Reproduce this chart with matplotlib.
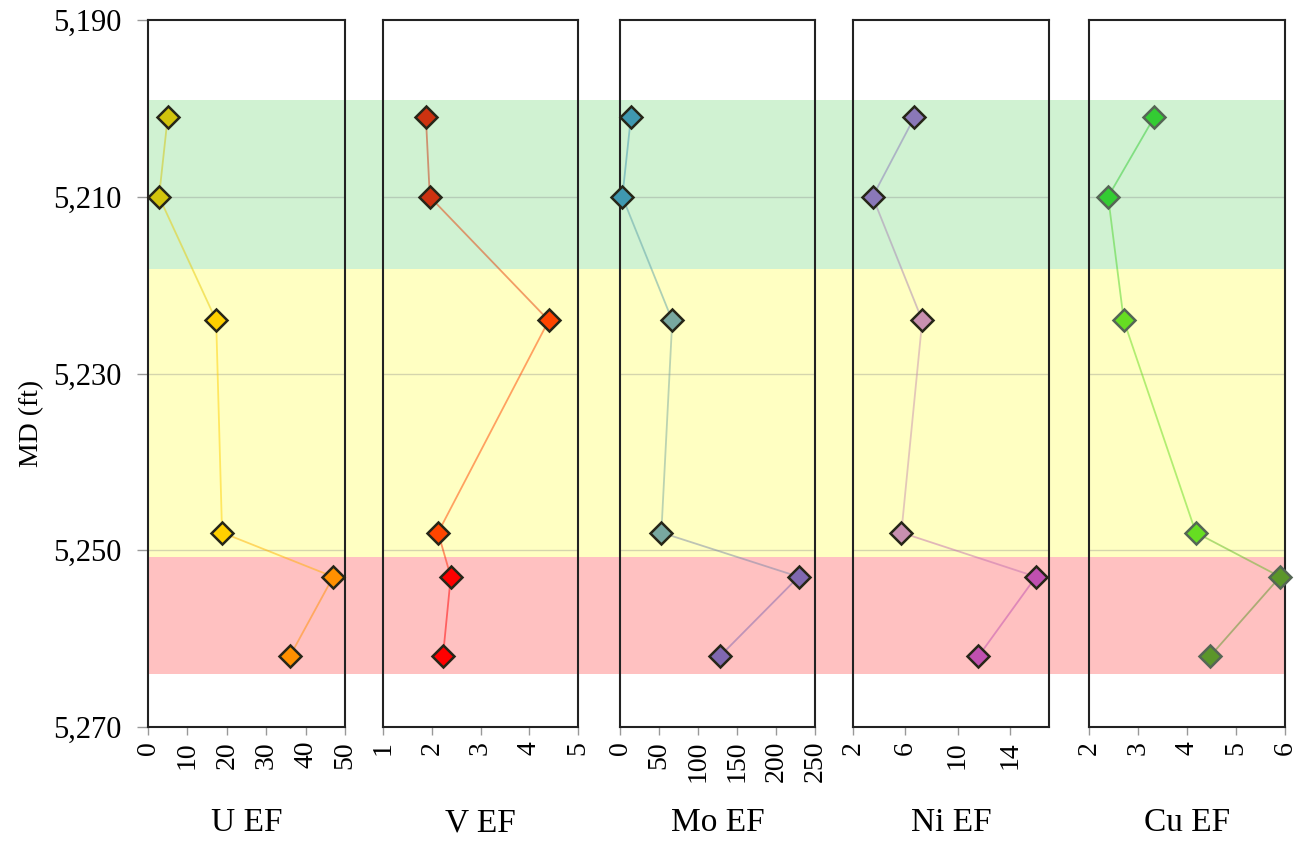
import numpy as np
import matplotlib.pyplot as plt
from matplotlib.colors import to_rgb
from matplotlib.ticker import FuncFormatter

plt.rcParams['font.family'] = ['Liberation Serif', 'DejaVu Serif']

# Sample depths (ft) and enrichment factors
depth = [5201, 5210, 5224, 5248, 5253, 5262]
u_ef = [5.0, 2.8, 17.3, 18.8, 47.0, 36.0]
v_ef = [1.88, 1.96, 4.40, 2.13, 2.39, 2.23]
mo_ef = [14, 3, 67, 53, 229, 128]
ni_ef = [6.7, 3.5, 7.3, 5.7, 16.0, 11.6]
cu_ef = [3.33, 2.39, 2.71, 4.18, 5.90, 4.47]

# Depth intervals (top, base) for the shaded zones
zones = [(5199, 5218.2, '#d0f2d2'),
         (5218.2, 5250.8, '#ffffc2'),
         (5250.8, 5264, '#ffc1c1')]

panels = [
    ("U EF", u_ef, (0, 50), [0, 10, 20, 30, 40, 50],
     ['#d2c40c', '#d2c40c', '#ffd000', '#ffd000', '#ff9000', '#ff9000']),
    ("V EF", v_ef, (1, 5), [1, 2, 3, 4, 5],
     ['#cc3210', '#cc3210', '#ff4500', '#ff4500', '#ff0000', '#ff0000']),
    ("Mo EF", mo_ef, (0, 250), [0, 50, 100, 150, 200, 250],
     ['#3f98b0', '#3f98b0', '#78a8a0', '#78a8a0', '#8068b0', '#8068b0']),
    ("Ni EF", ni_ef, (2, 17), [2, 6, 10, 14],
     ['#8a78b8', '#8a78b8', '#c890b0', '#c890b0', '#c050b0', '#c050b0']),
    ("Cu EF", cu_ef, (2, 6), [2, 3, 4, 5, 6],
     ['#33cc33', '#33cc33', '#66dd22', '#66dd22', '#5b962a', '#5b962a']),
]

W, H = 1302, 841
fig = plt.figure(figsize=(W / 100, H / 100), dpi=100)

top_px, bot_px = 20, 727
y0 = (H - bot_px) / H
h = (bot_px - top_px) / H
lefts = [148, 383, 620, 853, 1089]
widths = [197, 195, 195, 196, 196]
ylim = (5270, 5190)

# shaded zones run across all tracks
bg = fig.add_axes([148 / W, y0, (1285 - 148) / W, h], zorder=0)
bg.set_ylim(*ylim)
bg.set_xlim(0, 1)
for top, base, col in zones:
    bg.axhspan(top, base, color=col, lw=0)
bg.axis('off')

for i, (name, vals, xlim, xticks, cols) in enumerate(panels):
    ax = fig.add_axes([lefts[i] / W, y0, widths[i] / W, h], zorder=1)
    ax.patch.set_alpha(0)
    ax.set_xlim(*xlim)
    ax.set_ylim(*ylim)
    ax.set_xticks(xticks)
    ax.set_yticks([5190, 5210, 5230, 5250, 5270])
    for d in [5210, 5230, 5250]:
        ax.axhline(d, color='#888888', alpha=0.35, lw=1.0, zorder=1)
    for s in ax.spines.values():
        s.set_color('#222222')
        s.set_linewidth(1.5)
    ax.tick_params(axis='x', direction='out', length=6, width=1, color='#999999',
                   labelsize=20, labelrotation=90, pad=4)
    if i == 0:
        ax.tick_params(axis='y', direction='out', length=8, width=1, color='#999999',
                       labelsize=22, pad=11)
        ax.yaxis.set_major_formatter(FuncFormatter(lambda v, p: f"{v:,.0f}"))
    else:
        ax.tick_params(axis='y', left=False, labelleft=False)

    # connecting segments, blended between neighbouring marker colours
    for k in range(len(vals) - 1):
        c = (np.array(to_rgb(cols[k])) + np.array(to_rgb(cols[k + 1]))) / 2
        ax.plot(vals[k:k + 2], depth[k:k + 2], color=c, alpha=0.5, lw=1.3,
                zorder=2, clip_on=False)
    edge = '#556655' if name == "Cu EF" else '#262618'
    for x, d, c in zip(vals, depth, cols):
        ax.plot(x, d, marker='D', ms=11, mfc=c, mec=edge, mew=1.8,
                zorder=3, clip_on=False)

    fig.text((lefts[i] + widths[i] / 2) / W, 1 - 823 / H, name,
             ha='center', va='center', fontsize=24)

fig.text(32 / W, 1 - 423 / H, "MD (ft)", rotation=90, ha='center', va='center',
         fontsize=20)

fig.savefig("out.png", dpi=100)
